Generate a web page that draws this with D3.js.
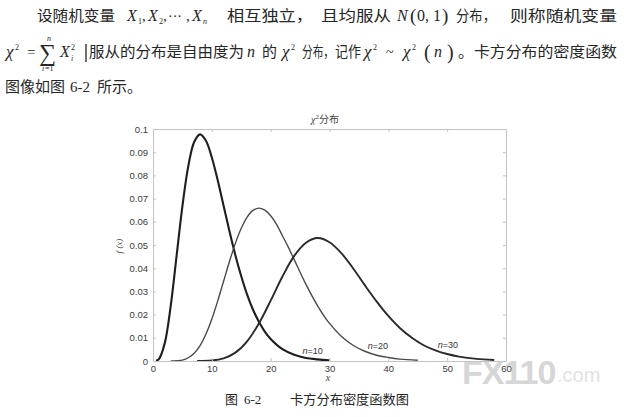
<!DOCTYPE html>
<html>
<head>
<meta charset="utf-8">
<script src="https://cdn.jsdelivr.net/npm/d3@7"></script>
<style>
  html, body { margin: 0; padding: 0; background: #fff; }
  svg { display: block; }
  .cjk { font-family: "Noto Sans CJK SC", sans-serif; fill: #262626; }
  .math { font-family: "Liberation Serif", "DejaVu Serif", serif; fill: #262626; }
  .tick text { font-family: "Liberation Sans", Arial, sans-serif; font-size: 9.5px; fill: #3a3a3a; }
</style>
</head>
<body>
<div class="content"></div>
<script>
//--> Data
const xTicks = [0, 10, 20, 30, 40, 50, 60];
const yTicks = [0, 0.01, 0.02, 0.03, 0.04, 0.05, 0.06, 0.07, 0.08, 0.09, 0.1];

const n10X = [0.5, 1, 2, 3, 4, 5, 6, 7, 8, 9, 10, 11, 12, 13, 14, 15, 16, 17, 18, 19, 20, 22, 24, 26, 28, 30];
const n10Y = [0.0001, 0.0008, 0.0077, 0.0235, 0.0451, 0.0668, 0.084, 0.0944, 0.0977, 0.0949, 0.0877, 0.0779,
  0.0669, 0.0559, 0.0456, 0.0365, 0.0286, 0.0221, 0.0169, 0.0127, 0.0095, 0.0051, 0.0027, 0.0013, 0.0007, 0.0003];

const n20X = [3, 4, 5, 6, 7, 8, 9, 10, 11, 12, 13, 14, 15, 16, 17, 18, 19, 20, 21, 22, 23, 24, 26, 28, 30,
  32, 34, 36, 38, 40, 42, 45];
const n20Y = [0, 0.0001, 0.0004, 0.0014, 0.0033, 0.0066, 0.0116, 0.0181, 0.0259, 0.0344, 0.0429, 0.0507,
  0.0572, 0.062, 0.0649, 0.0659, 0.065, 0.0626, 0.0589, 0.054, 0.0491, 0.0437, 0.033, 0.0237, 0.0162,
  0.0107, 0.0068, 0.0042, 0.0025, 0.0015, 0.0008, 0.0003];

const n30X = [7.5, 10, 12, 14, 16, 18, 20, 22, 24, 26, 28, 30, 32, 34, 36, 38, 40, 42, 44, 46, 48, 50, 52, 55, 58];
const n30Y = [0, 0.0002, 0.0011, 0.0036, 0.0085, 0.0162, 0.026, 0.0364, 0.0453, 0.051, 0.053, 0.0512,
  0.0465, 0.04, 0.0327, 0.0257, 0.0194, 0.0141, 0.01, 0.0068, 0.0046, 0.003, 0.0019, 0.0009, 0.0004];

const curveNames = ["n=10", "n=20", "n=30"];
const labelX = [25.4, 36.5, 48.4];
const labelY = [0.0032, 0.005, 0.0058];

//--> Constants
const width = 639;
const height = 417;
const plot = { left: 153, top: 129, width: 353, height: 232 };

const svg = d3
  .select(".content")
  .append("svg")
  .attr("width", width)
  .attr("height", height);

svg.append("rect").attr("width", width).attr("height", height).attr("fill", "#fff");

//--> Text helpers
const cjk = (x, y, str, len, size = 15) => {
  const t = svg.append("text").attr("class", "cjk").attr("x", x).attr("y", y)
    .attr("font-size", size).text(str);
  if (len) t.attr("textLength", len).attr("lengthAdjust", "spacingAndGlyphs");
  return t;
};

const math = (x, y, str, size = 16, italic = true) =>
  svg.append("text").attr("class", "math").attr("x", x).attr("y", y)
    .attr("font-size", size).attr("font-style", italic ? "italic" : "normal").text(str);

// chi with a small superscript 2
const chiSq = (x, y) => {
  math(x, y, "χ", 17);
  math(x + 9, y - 7, "2", 8, false);
};

//--> Paragraph, line 1
cjk(37, 21, "设随机变量", 78);
math(127, 21, "X"); math(138, 24, "1", 8, false); math(142, 21, ",", 15, false);
math(148, 21, "X"); math(159, 24, "2", 8, false); math(163, 21, ",", 15, false);
math(168, 21, "···", 14, false); math(186, 21, ",", 15, false);
math(192, 21, "X"); math(203, 24, "n", 8);
cjk(227, 21, "相互独立，", 86);
cjk(321, 21, "且均服从", 70);
math(397, 21, "N"); math(410, 22, "(", 19, false); math(417, 21, "0, 1", 16, false); math(442, 22, ")", 19, false);
cjk(456, 21, "分布，", 40);
cjk(510, 21, "则称随机变量", 107);

//--> Paragraph, line 2
chiSq(6, 57);
math(27, 57, "=", 15, false);
math(39, 61, "∑", 24, false);
math(47, 41, "n", 8); math(42, 71, "i", 8); math(45, 71, "=1", 8, false);
math(60, 57, "X"); math(71, 50, "2", 8, false); math(71, 61, "i", 8);
svg.append("line").attr("x1", 86).attr("x2", 86).attr("y1", 44).attr("y2", 62)
  .attr("stroke", "#222").attr("stroke-width", 1.3);
cjk(89, 57, "服从的分布是自由度为", 155);
math(247, 57, "n");
cjk(262, 57, "的", 15);
chiSq(282, 57);
cjk(302, 57, "分布，", 32);
cjk(335, 57, "记作", 26);
chiSq(364, 57);
math(386, 57, "~", 14, false);
chiSq(403, 57);
math(424, 59, "(", 20, false); math(434, 57, "n"); math(447, 59, ")", 20, false);
cjk(458, 57, "。卡方分布的密度函数", 159);

//--> Paragraph, line 3
cjk(5, 92, "图像如图", 60);
math(70, 92, "6-2", 15, false);
cjk(97, 92, "所示。", 45);

//--> Scales
const xScale = d3.scaleLinear().domain([0, 60]).range([plot.left, plot.left + plot.width]);
const yScale = d3.scaleLinear().domain([0, 0.1]).range([plot.top + plot.height, plot.top]);

const graph = svg.append("g");

//--> Axes, ticks pointing inward like the original
const styleAxis = g => {
  g.select(".domain").attr("stroke", "#c4c4c4");
  g.selectAll(".tick line").attr("stroke", "#c4c4c4");
};

graph.append("g")
  .attr("transform", `translate(0, ${plot.top})`)
  .call(d3.axisTop(xScale).tickValues(xTicks).tickSizeInner(-3).tickSizeOuter(0).tickFormat(""))
  .call(styleAxis);

graph.append("g")
  .attr("transform", `translate(${plot.left}, 0)`)
  .call(d3.axisLeft(yScale).tickValues(yTicks).tickSizeInner(-3).tickSizeOuter(0).tickPadding(5).tickFormat(d => d === 0 ? "0" : d3.format(".2~f")(d)))
  .call(styleAxis);

graph.append("g")
  .attr("transform", `translate(${plot.left + plot.width}, 0)`)
  .call(d3.axisRight(yScale).tickValues(yTicks).tickSizeInner(-3).tickSizeOuter(0).tickFormat(""))
  .call(styleAxis);

//--> Curves
const series = [
  { xs: n10X, ys: n10Y, color: "#1e1e1e", w: 2.1 },
  { xs: n20X, ys: n20Y, color: "#4a4a4a", w: 1.4 },
  { xs: n30X, ys: n30Y, color: "#2a2a2a", w: 1.9 }
];

const line = d3.line()
  .x(d => xScale(d[0]))
  .y(d => yScale(d[1]))
  .curve(d3.curveCatmullRom);

graph.selectAll(".curve")
  .data(series)
  .enter()
  .append("path")
  .attr("class", "curve")
  .attr("fill", "none")
  .attr("stroke", d => d.color)
  .attr("stroke-width", d => d.w)
  .attr("stroke-linejoin", "round")
  .attr("d", d => line(d.xs.map((x, i) => [x, d.ys[i]])));

//--> Curve labels
graph.selectAll(".curve-label")
  .data(curveNames)
  .enter()
  .append("text")
  .attr("class", "curve-label")
  .attr("x", (d, i) => xScale(labelX[i]))
  .attr("y", (d, i) => yScale(labelY[i]))
  .attr("font-family", "Liberation Sans, Arial, sans-serif")
  .attr("font-size", 9)
  .attr("fill", "#333")
  .each(function (d) {
    const node = d3.select(this);
    node.append("tspan").attr("font-style", "italic").text("n");
    node.append("tspan").text(d.slice(1));
  });

//--> Watermark (sits over the tail of the n=30 curve)
const mark = svg.append("g").attr("font-family", "Liberation Sans, Arial, sans-serif").attr("font-weight", "bold");
mark.append("text").attr("x", 462).attr("y", 384).attr("font-size", 34)
  .attr("fill", "#d6d6d6").attr("letter-spacing", -1).text("FX110");
mark.append("text").attr("x", 557).attr("y", 382).attr("font-size", 20).attr("font-weight", "normal")
  .attr("fill", "#e2e2e2").text(".com");

//--> Bottom axis drawn last so its labels stay on top of the watermark
svg.append("g")
  .attr("transform", `translate(0, ${plot.top + plot.height})`)
  .call(d3.axisBottom(xScale).tickValues(xTicks).tickSizeInner(-3).tickSizeOuter(0).tickPadding(4).tickFormat(d3.format("d")))
  .call(styleAxis);

//--> Titles
const title = svg.append("text")
  .attr("x", 325).attr("y", 123)
  .attr("text-anchor", "middle")
  .attr("font-size", 10)
  .attr("fill", "#444");
title.append("tspan").attr("font-family", "Liberation Serif, serif").attr("font-style", "italic").text("χ");
title.append("tspan").attr("font-family", "Liberation Serif, serif").attr("font-size", 7).attr("dy", -4).text("2");
title.append("tspan").attr("font-family", "Noto Sans CJK SC, sans-serif").attr("dy", 4).text("分布");

svg.append("text")
  .attr("x", 328).attr("y", 381)
  .attr("text-anchor", "middle")
  .attr("font-family", "Liberation Serif, serif")
  .attr("font-style", "italic")
  .attr("font-size", 10)
  .attr("fill", "#444")
  .text("x");

svg.append("text")
  .attr("transform", "translate(122, 246) rotate(-90)")
  .attr("text-anchor", "middle")
  .attr("font-family", "Liberation Serif, serif")
  .attr("font-style", "italic")
  .attr("font-size", 9)
  .attr("fill", "#444")
  .text("f (x)");

//--> Caption
cjk(225, 404, "图", 13, 13);
svg.append("text").attr("class", "math").attr("x", 244).attr("y", 404).attr("font-size", 13).text("6-2");
cjk(290, 404, "卡方分布密度函数图", 119, 13);
</script>
</body>
</html>
